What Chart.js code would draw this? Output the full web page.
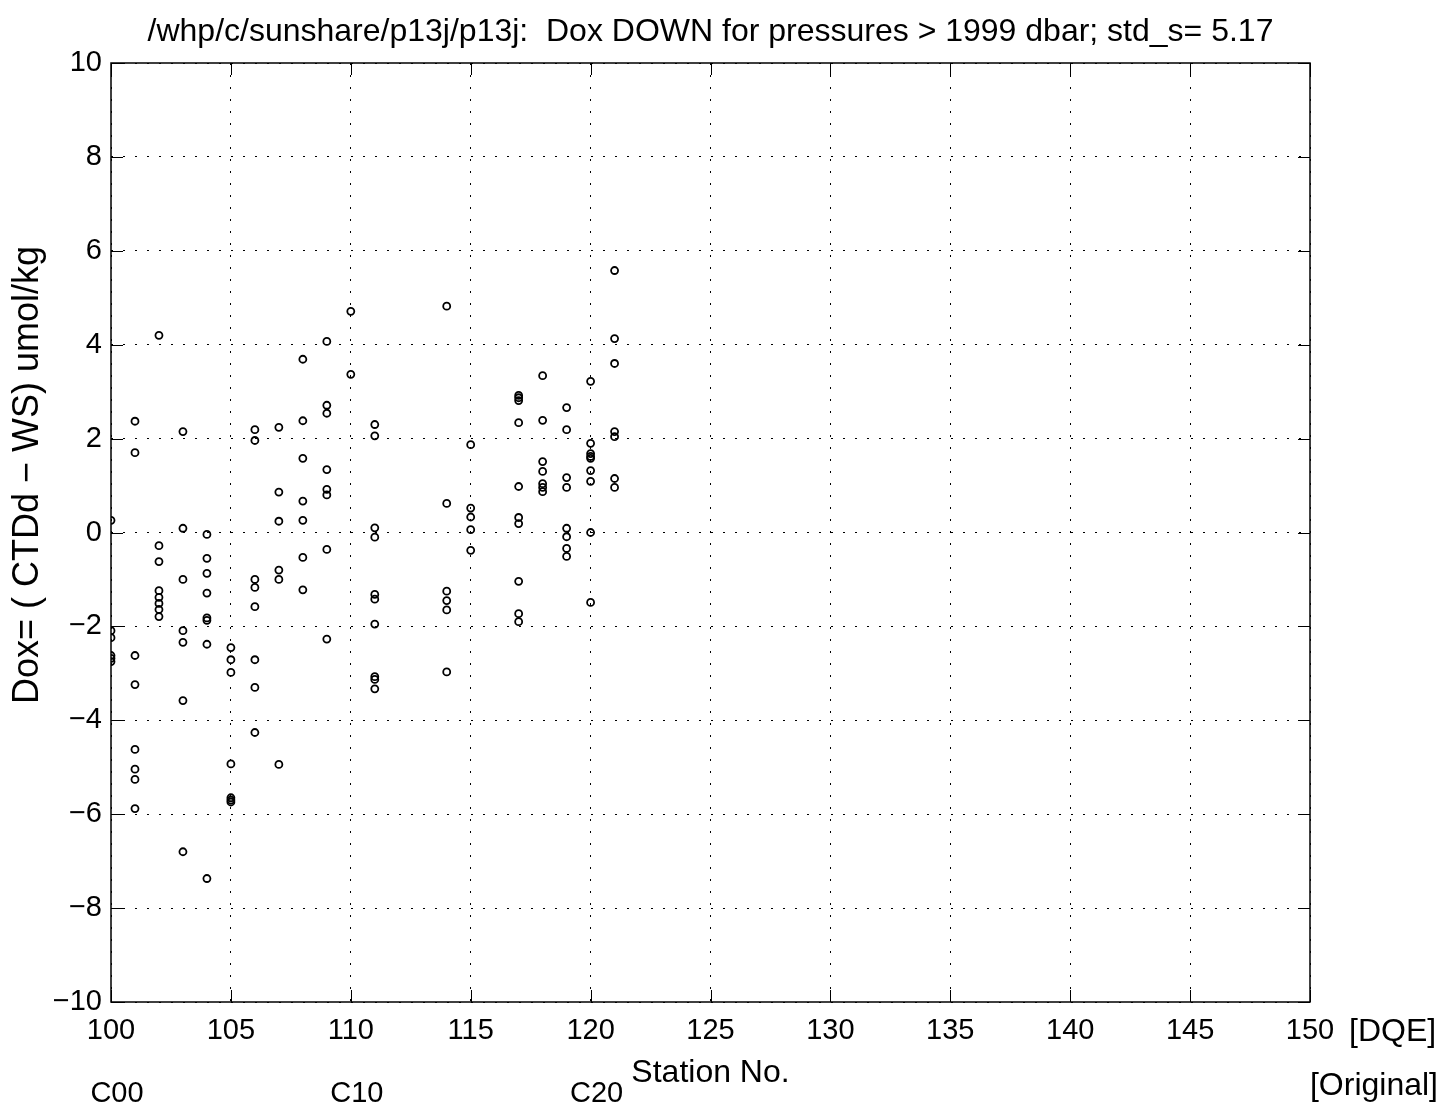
<!DOCTYPE html>
<html>
<head>
<meta charset="utf-8">
<script src="https://cdn.jsdelivr.net/npm/chart.js@4/dist/chart.umd.min.js"></script>
<style>
    html, body { margin: 0; padding: 0; background: #fff; }
    #wrap { width: 1444px; height: 1109px; }
</style>
</head>
<body>
<div id="wrap"><canvas id="doxChart" width="1444" height="1109"></canvas></div>
<script>
// Station numbers and the Dox residuals read at each one
const stations = [100, 101, 102, 103, 104, 105, 106, 107, 108, 109, 110, 111, 114, 115, 117, 118, 119, 120, 121];
const doxByStation = [
    [0.26, -2.09, -2.24, -2.62, -2.68, -2.75],
    [2.37, 1.70, -2.62, -3.24, -4.62, -5.04, -5.26, -5.88],
    [4.2, -0.28, -0.62, -1.24, -1.38, -1.51, -1.64, -1.79],
    [2.15, 0.09, -1.0, -2.09, -2.34, -3.58, -6.8],
    [-0.04, -0.55, -0.87, -1.29, -1.82, -1.87, -2.38, -7.37],
    [-2.45, -2.71, -2.98, -4.93, -5.65, -5.70, -5.74],
    [2.19, 1.96, -1.0, -1.17, -1.58, -2.71, -3.30, -4.26],
    [2.24, 0.86, 0.24, -0.80, -1.0, -4.94],
    [3.69, 2.38, 1.58, 0.67, 0.26, -0.53, -1.22],
    [4.07, 2.71, 2.54, 1.34, 0.92, 0.80, -0.36, -2.27],
    [4.71, 3.37],
    [2.30, 2.06, 0.10, -0.10, -1.32, -1.42, -1.95, -3.07, -3.13, -3.33],
    [4.82, 0.62, -1.25, -1.45, -1.65, -2.97],
    [1.87, 0.52, 0.33, 0.06, -0.38],
    [2.92, 2.87, 2.81, 2.34, 0.98, 0.32, 0.19, -1.04, -1.73, -1.90],
    [3.34, 2.39, 1.51, 1.30, 1.04, 0.96, 0.87],
    [2.66, 2.19, 1.17, 0.96, 0.09, -0.09, -0.34, -0.51],
    [3.22, 1.90, 1.68, 1.62, 1.58, 1.32, 1.09, 0.0, -1.49],
    [5.58, 4.13, 3.60, 2.15, 2.04, 1.15, 0.96]
];

// Axis ticks
const xTicks = [100, 105, 110, 115, 120, 125, 130, 135, 140, 145, 150];
const yTicks = [-10, -8, -6, -4, -2, 0, 2, 4, 6, 8, 10];

// Original cast names under the DQE station axis
const originalNames = ['C00', 'C10', 'C20'];
const originalStations = [100, 110, 120];

const FONT_FAMILY = "'Liberation Sans', Arial, Helvetica, sans-serif";
const TICK_SIZE = 29;
const LABEL_SIZE = 32;

const points = [];
stations.forEach((st, i) => {
    doxByStation[i].forEach(v => points.push({ x: st, y: v }));
});

// Title, y label, frame, inward tick marks and the extra station labels
const frameAndLabels = {
    id: 'frameAndLabels',
    afterDraw(chart) {
        const { ctx, chartArea: a, scales: { x, y } } = chart;
        ctx.save();
        ctx.strokeStyle = '#000';
        ctx.lineWidth = 1.5;
        ctx.setLineDash([]);
        ctx.strokeRect(a.left, a.top, a.right - a.left, a.bottom - a.top);

        ctx.lineWidth = 1;
        const len = 12;
        ctx.beginPath();
        xTicks.forEach(v => {
            const px = Math.round(x.getPixelForValue(v)) + 0.5;
            ctx.moveTo(px, a.bottom); ctx.lineTo(px, a.bottom - len);
            ctx.moveTo(px, a.top); ctx.lineTo(px, a.top + len);
        });
        yTicks.forEach(v => {
            const py = Math.round(y.getPixelForValue(v)) + 0.5;
            ctx.moveTo(a.left, py); ctx.lineTo(a.left + len, py);
            ctx.moveTo(a.right, py); ctx.lineTo(a.right - len, py);
        });
        ctx.stroke();

        ctx.fillStyle = '#000';
        ctx.textBaseline = 'middle';

        // main title, centred over the plot box
        ctx.font = LABEL_SIZE + 'px ' + FONT_FAMILY;
        ctx.textAlign = 'center';
        ctx.fillText('/whp/c/sunshare/p13j/p13j:  Dox DOWN for pressures > 1999 dbar; std_s= 5.17',
            (a.left + a.right) / 2, 32);

        ctx.textAlign = 'left';
        ctx.fillText('[DQE]', x.getPixelForValue(150) + 39, a.bottom + 30);
        ctx.textAlign = 'right';
        ctx.fillText('[Original]', chart.width - 6, a.bottom + 84);

        ctx.font = TICK_SIZE + 'px ' + FONT_FAMILY;
        ctx.textAlign = 'center';
        originalNames.forEach((name, i) => {
            ctx.fillText(name, x.getPixelForValue(originalStations[i]) + 6, a.bottom + 92);
        });

        // y axis label
        ctx.save();
        ctx.translate(28, 475);
        ctx.rotate(-Math.PI / 2);
        ctx.font = '36px ' + FONT_FAMILY;
        ctx.textAlign = 'center';
        ctx.fillText('Dox= ( CTDd \u2212 WS) umol/kg', 0, 0);
        ctx.restore();

        ctx.restore();
    }
};

const ctx = document.getElementById('doxChart').getContext('2d');
new Chart(ctx, {
    type: 'scatter',
    data: {
        datasets: [{
            data: points,
            pointStyle: 'circle',
            pointRadius: 3.5,
            pointBorderWidth: 1.8,
            borderColor: '#000',
            backgroundColor: 'rgba(0,0,0,0)'
        }]
    },
    options: {
        responsive: false,
        animation: false,
        layout: { padding: { left: 0, right: 134, top: 63, bottom: 0 } },
        plugins: {
            legend: { display: false },
            tooltip: { enabled: false },
            title: { display: false }
        },
        scales: {
            x: {
                type: 'linear',
                min: 100,
                max: 150,
                afterBuildTicks: s => { s.ticks = xTicks.map(v => ({ value: v })); },
                afterFit: s => { s.height = 107; },
                ticks: {
                    color: '#000',
                    padding: 12,
                    maxRotation: 0,
                    font: { family: FONT_FAMILY, size: TICK_SIZE },
                    callback: v => String(v)
                },
                grid: { color: '#000', lineWidth: 1, drawTicks: false },
                border: { display: false, dash: [2, 10] },
                title: {
                    display: true,
                    text: 'Station No.',
                    color: '#000',
                    font: { family: FONT_FAMILY, size: LABEL_SIZE },
                    padding: { top: 0, bottom: 17 }
                }
            },
            y: {
                type: 'linear',
                min: -10,
                max: 10,
                afterBuildTicks: s => { s.ticks = yTicks.map(v => ({ value: v })); },
                afterFit: s => { s.width = 111; },
                ticks: {
                    color: '#000',
                    padding: 9,
                    font: { family: FONT_FAMILY, size: TICK_SIZE },
                    callback: v => (v < 0 ? '\u2212' + Math.abs(v) : String(v))
                },
                grid: { color: '#000', lineWidth: 1, drawTicks: false },
                border: { display: false, dash: [2, 10] }
            }
        }
    },
    plugins: [frameAndLabels]
});
</script>
</body>
</html>
